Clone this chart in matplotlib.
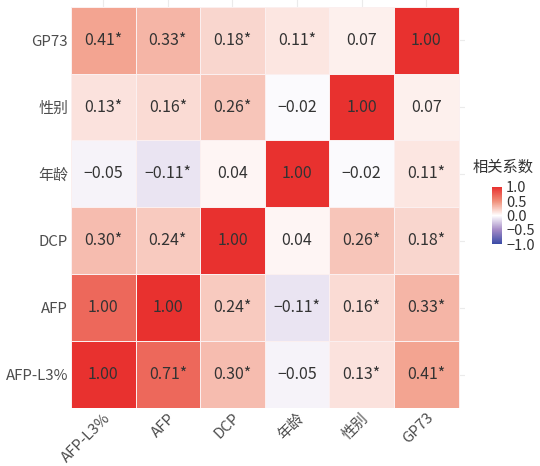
import matplotlib
matplotlib.use("Agg")
import matplotlib.pyplot as plt
import numpy as np
from matplotlib.colors import LinearSegmentedColormap

plt.rcParams['font.family'] = ['Noto Sans CJK SC', 'DejaVu Sans']
plt.rcParams['axes.unicode_minus'] = True

# columns (left -> right) and rows (bottom -> top)
cols = ['AFP-L3%', 'AFP', 'DCP', '年龄', '性别', 'GP73']
rows = ['AFP-L3%', 'AFP', 'DCP', '年龄', '性别', 'GP73']

# values used for fill colour, row by row from bottom
values = [
    [1.00, 0.71, 0.30, -0.05, 0.13, 0.41],
    [0.71, 1.00, 0.24, -0.11, 0.16, 0.33],
    [0.30, 0.24, 1.00, 0.04, 0.26, 0.18],
    [-0.05, -0.11, 0.04, 1.00, -0.02, 0.11],
    [0.13, 0.16, 0.26, -0.02, 1.00, 0.07],
    [0.41, 0.33, 0.18, 0.11, 0.07, 1.00],
]

# text printed in each cell, same layout
labels = [
    ['1.00', '0.71*', '0.30*', '−0.05', '0.13*', '0.41*'],
    ['1.00', '1.00', '0.24*', '−0.11*', '0.16*', '0.33*'],
    ['0.30*', '0.24*', '1.00', '0.04', '0.26*', '0.18*'],
    ['−0.05', '−0.11*', '0.04', '1.00', '−0.02', '0.11*'],
    ['0.13*', '0.16*', '0.26*', '−0.02', '1.00', '0.07'],
    ['0.41*', '0.33*', '0.18*', '0.11*', '0.07', '1.00'],
]

cbar_ticks = [-1.0, -0.5, 0.0, 0.5, 1.0]

cmap = LinearSegmentedColormap.from_list(
    'corr', [(0.0, '#3A4BA6'), (0.25, '#A48AC6'), (0.5, '#FFFFFF'),
             (0.75, '#F0907A'), (1.0, '#E8312F')])

fig = plt.figure(figsize=(5.4, 4.66), dpi=100)
ax = fig.add_axes([71 / 540, 1 - 408 / 466, 394 / 540, 408 / 466])

vals = np.array(values)
x = np.arange(len(cols) + 1) - 0.5
y = np.arange(len(rows) + 1) - 0.5

# faint panel grid at the cell centres
for i in range(len(cols)):
    ax.axvline(i, color='#EBEBEB', lw=0.8, zorder=0)
for j in range(len(rows)):
    ax.axhline(j, color='#EBEBEB', lw=0.8, zorder=0)

mesh = ax.pcolormesh(x, y, vals, cmap=cmap, vmin=-1, vmax=1,
                     edgecolors='#FBEFEF', linewidth=0.7, zorder=1)

for r in range(len(rows)):
    for c in range(len(cols)):
        ax.text(c, r, labels[r][c], ha='center', va='center',
                fontsize=11.5, color='#333333', zorder=2)

ax.set_xlim(-0.5, len(cols) - 0.4)
ax.set_ylim(-0.5, len(rows) - 0.4)
ax.set_xticks(range(len(cols)))
ax.set_yticks(range(len(rows)))
ax.set_xticklabels(cols, rotation=45, ha='right', rotation_mode='anchor',
                   fontsize=10.8, color='#4D4D4D')
ax.set_yticklabels(rows, fontsize=10.8, color='#4D4D4D')
ax.tick_params(length=0, pad=2)
for s in ax.spines.values():
    s.set_visible(False)

cax = fig.add_axes([492 / 540, 1 - 244 / 466, 10 / 540, 57 / 466])
cb = fig.colorbar(mesh, cax=cax, ticks=cbar_ticks)
cb.outline.set_visible(False)
cb.ax.set_yticklabels(['−1.0', '−0.5', '0.0', '0.5', '1.0'])
cb.ax.tick_params(length=2, width=0.5, color='white', labelsize=10.5,
                  labelcolor='#333333', pad=1)
fig.text(503 / 540, 1 - 167 / 466, '相关系数', ha='center', va='center',
         fontsize=11, color='#333333')

fig.savefig('out.png', dpi=100)
